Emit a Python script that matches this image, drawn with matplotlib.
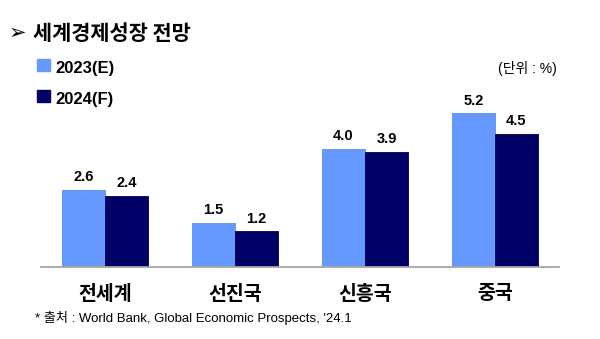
import numpy as np
import matplotlib.pyplot as plt
from matplotlib.patches import Rectangle

# data
categories = ["전세계", "선진국", "신흥국", "중국"]
series_names = ["2023(E)", "2024(F)"]
growth_2023 = [2.6, 1.5, 4.0, 5.2]
growth_2024 = [2.4, 1.2, 3.9, 4.5]

light = "#6699ff"
dark = "#000066"
kr = ["Liberation Sans", "Noto Sans CJK KR", "DejaVu Sans"]

fig = plt.figure(figsize=(6, 3.39), dpi=100)
ax = fig.add_axes([41 / 600, 1 - 267 / 339, 518 / 600, 177.6 / 339])

x = np.arange(len(categories))
w = 0.33
b1 = ax.bar(x - w / 2, growth_2023, w, color=light, edgecolor="#5b8de6", linewidth=0.6)
b2 = ax.bar(x + w / 2, growth_2024, w, color=dark, edgecolor="#00004d", linewidth=0.6)

for bars, vals in [(b1, growth_2023), (b2, growth_2024)]:
    for r, v in zip(bars, vals):
        ax.annotate(f"{v:.1f}", xy=(r.get_x() + r.get_width() / 2, v),
                    xytext=(0, 4), textcoords="offset points",
                    ha="center", va="bottom", fontsize=10.5, fontweight="bold",
                    family="Liberation Sans", color="black")

ax.set_xlim(-0.4923, 3.4923)
ax.set_ylim(0, 6)
for s in ["top", "right", "left"]:
    ax.spines[s].set_visible(False)
ax.spines["bottom"].set_color("#a6a6a6")
ax.spines["bottom"].set_linewidth(1.3)
ax.set_yticks([])
ax.set_xticks(x)
ax.set_xticklabels(categories, fontsize=14, fontweight="bold", family=kr)
ax.tick_params(axis="x", length=0, pad=13)

# title
fig.text(9 / 600, 1 - 33 / 339, "➢", fontsize=15, fontweight="bold", family=["DejaVu Sans"],
         va="center", ha="left")
fig.text(33 / 600, 1 - 34 / 339, "세계경제성장 전망", fontsize=15, fontweight="bold",
         family=["Noto Sans CJK KR"], va="center", ha="left")

# legend
for i, (name, c) in enumerate(zip(series_names, [light, dark])):
    yc = 65 + i * 31
    fig.add_artist(Rectangle((37 / 600, 1 - (yc + 6) / 339), 13 / 600, 12 / 339,
                             transform=fig.transFigure, color=c))
    fig.text(55 / 600, 1 - (yc + 4) / 339, name, fontsize=12, fontweight="bold",
             family="Liberation Sans", va="center", ha="left")

fig.text(557 / 600, 1 - 68 / 339, "(단위 : %)", fontsize=10, family=kr, va="center", ha="right")
fig.text(35 / 600, 1 - 318 / 339, "* 출처 : World Bank, Global Economic Prospects, '24.1",
         fontsize=9.5, family=kr, va="center", ha="left")

fig.savefig("out.png", dpi=100)
